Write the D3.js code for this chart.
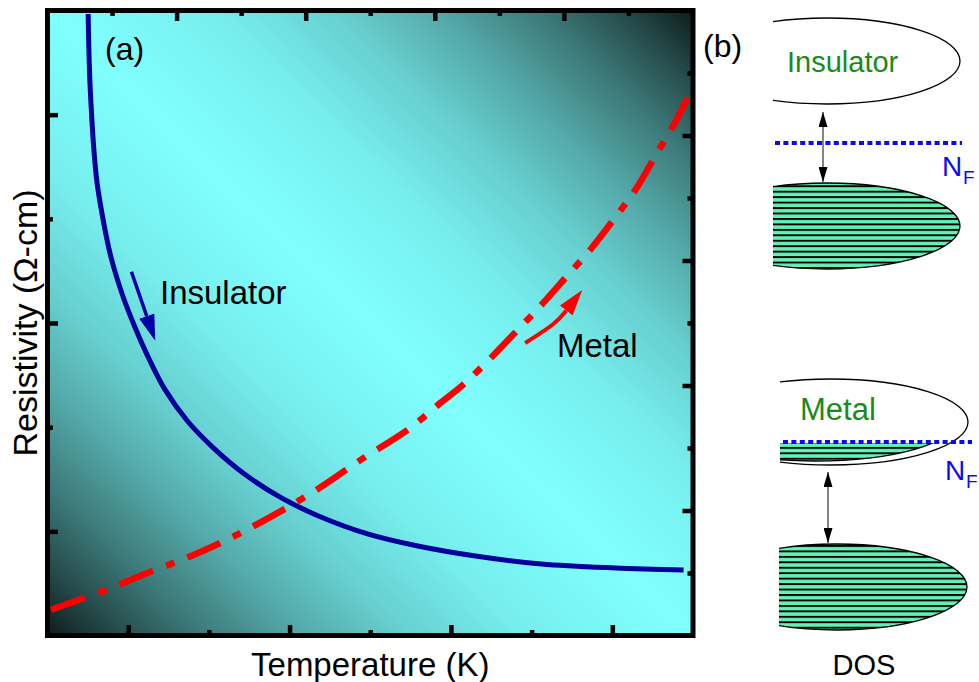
<!DOCTYPE html>
<html>
<head>
<meta charset="utf-8">
<script src="https://cdn.jsdelivr.net/npm/d3@7"></script>
<style>
  body { margin: 0; background: #fff; }
  svg { display: block; }
  text { font-family: "Liberation Sans", Arial, sans-serif; }
</style>
</head>
<body>
<svg id="chart" width="979" height="682"></svg>
<script>
// Resistivity versus temperature, arbitrary units
const insulatorT   = [0.504, 0.530, 0.606, 0.683, 0.786, 0.938, 1.092, 1.245, 1.449, 1.729, 2.062, 2.445, 2.905, 3.365, 3.977, 4.589, 5.304, 6.121, 7.040, 7.883];
const insulatorRho = [9.944, 8.733, 7.330, 6.696, 6.056, 5.416, 4.907, 4.461, 3.950, 3.440, 2.994, 2.579, 2.197, 1.909, 1.622, 1.432, 1.272, 1.144, 1.080, 1.048];
const metalT   = [0.045, 0.658, 1.270, 1.781, 2.317, 2.956, 3.365, 3.873, 4.487, 4.844, 5.152, 5.509, 5.841, 6.121, 6.428, 6.734, 7.040, 7.296, 7.551, 7.756, 7.960];
const metalRho = [0.411, 0.698, 1.016, 1.272, 1.592, 2.037, 2.355, 2.802, 3.312, 3.694, 4.014, 4.461, 4.907, 5.288, 5.736, 6.184, 6.696, 7.150, 7.712, 8.158, 8.669];

// Tick positions (no tick labels are drawn)
const bottomMajor = [1, 3, 5, 7], bottomMinor = [2, 4, 6];
const topMajor = [2, 4, 6, 8],    topMinor = [1, 3, 5, 7, 9];
const leftMajor = [1, 3, 5],      leftMinor = [2, 4];
const rightMajor = [2, 4, 6, 8],  rightMinor = [1, 3, 5, 7, 9];

// Direction arrows along each curve: shaft points in data units
const insulatorArrow = [[1.04, 5.82], [1.23, 5.11]];
const metalArrow = [[5.92, 4.68], [6.31, 5.00], [6.43, 5.20]];

const svg = d3.select("#chart");
const defs = svg.append("defs");

const pL = 47.5, pR = 693, pT = 10.5, pB = 635.5;
const x = d3.scaleLinear([0, 8], [pL, pR]);
const xTop = d3.scaleLinear([0, 10], [pL, pR]);
const y = d3.scaleLinear([0, 10], [pB, pT]);
const yLeft = d3.scaleLinear([0, 6], [pB, pT]);

// Background: bright cyan along the top-left / bottom-right diagonal,
// darkening toward the bottom-left and top-right corners
const grad = defs.append("linearGradient").attr("id", "bg")
  .attr("x1", 0).attr("y1", 1).attr("x2", 1).attr("y2", 0);
const fall = [[0, 1.0], [0.25, 0.93], [0.45, 0.80], [0.6, 0.65], [0.75, 0.47], [0.88, 0.28], [1, 0.08]];
const shade = b => d3.rgb(128 * b + 4 * (1 - b), 255 * b + 8 * (1 - b), 255 * b + 8 * (1 - b));
const stops = [];
fall.slice().reverse().forEach(([s, b]) => stops.push([0.5 * (1 - s), shade(b)]));
fall.slice(1).forEach(([s, b]) => stops.push([0.5 + 0.5 * s, shade(b)]));
grad.selectAll("stop").data(stops).join("stop")
  .attr("offset", d => d[0]).attr("stop-color", d => d[1]);

svg.append("rect").attr("x", pL).attr("y", pT)
  .attr("width", pR - pL).attr("height", pB - pT)
  .attr("fill", "url(#bg)");

// Curves
const line = d3.line().x(d => x(d[0])).y(d => y(d[1])).curve(d3.curveCatmullRom.alpha(0.5));
svg.append("path").datum(d3.zip(insulatorT, insulatorRho))
  .attr("d", line).attr("fill", "none").attr("stroke", "#00009c").attr("stroke-width", 5);
svg.append("path").datum(d3.zip(metalT, metalRho))
  .attr("d", line).attr("fill", "none").attr("stroke", "#ff0000").attr("stroke-width", 6.5)
  .attr("stroke-dasharray", "36,14,9,14");

// Arrowheads
function head(id, color, len, half) {
  defs.append("marker").attr("id", id)
    .attr("markerUnits", "userSpaceOnUse")
    .attr("viewBox", `0 ${-half} ${len} ${2 * half}`)
    .attr("markerWidth", len).attr("markerHeight", 2 * half)
    .attr("refX", 0).attr("refY", 0).attr("orient", "auto")
    .append("path").attr("d", `M0,${-half}L${len},0L0,${half}Z`).attr("fill", color);
}
head("blueHead", "#0000a8", 26, 8);
head("redHead", "#ff0000", 26, 8);

const arrowLine = d3.line().x(d => x(d[0])).y(d => y(d[1])).curve(d3.curveBasis);
svg.append("path").datum(insulatorArrow).attr("d", arrowLine)
  .attr("fill", "none").attr("stroke", "#0000a8").attr("stroke-width", 3.5)
  .attr("marker-end", "url(#blueHead)");
svg.append("path").datum(metalArrow).attr("d", arrowLine)
  .attr("fill", "none").attr("stroke", "#ff0000").attr("stroke-width", 4)
  .attr("marker-end", "url(#redHead)");

// Frame and inward ticks on all four sides
function ticks(axis, tx, ty) {
  const g = svg.append("g").attr("transform", `translate(${tx},${ty})`).call(axis);
  g.select(".domain").remove();
  g.selectAll(".tick line").attr("stroke", "#000").attr("stroke-width", 4.5);
  g.selectAll(".tick text").remove();
}
const major = 10.5, minor = 5.5;
ticks(d3.axisBottom(x).tickValues(bottomMajor).tickSize(-major), 0, pB);
ticks(d3.axisBottom(x).tickValues(bottomMinor).tickSize(-minor), 0, pB);
ticks(d3.axisTop(xTop).tickValues(topMajor).tickSize(-major), 0, pT);
ticks(d3.axisTop(xTop).tickValues(topMinor).tickSize(-minor), 0, pT);
ticks(d3.axisLeft(yLeft).tickValues(leftMajor).tickSize(-major), pL, 0);
ticks(d3.axisLeft(yLeft).tickValues(leftMinor).tickSize(-minor), pL, 0);
ticks(d3.axisRight(y).tickValues(rightMajor).tickSize(-major), pR, 0);
ticks(d3.axisRight(y).tickValues(rightMinor).tickSize(-minor), pR, 0);

svg.append("rect").attr("x", pL).attr("y", pT)
  .attr("width", pR - pL).attr("height", pB - pT)
  .attr("fill", "none").attr("stroke", "#000").attr("stroke-width", 5);

// Labels of panel (a)
const label = (t, px, py, size, opts = {}) => {
  const el = svg.append("text").attr("x", px).attr("y", py)
    .attr("font-size", size).attr("fill", opts.fill || "#000").text(t);
  if (opts.anchor) el.attr("text-anchor", opts.anchor);
  if (opts.rotate) el.attr("transform", `rotate(${opts.rotate},${px},${py})`);
  return el;
};
label("(a)", 105, 60, 32);
label("Insulator", 160, 304, 33);
label("Metal", 557, 357, 33);
label("Temperature (K)", (pL + pR) / 2, 676, 33, { anchor: "middle" });
label("Resistivity (\u03A9-cm)", 37, (pT + pB) / 2, 34, { anchor: "middle", rotate: -90 });

// Panel (b): density-of-states sketches
label("(b)", 703, 56.5, 32);

const hatch = defs.append("pattern").attr("id", "hatch")
  .attr("patternUnits", "userSpaceOnUse").attr("width", 12).attr("height", 5.45);
hatch.append("rect").attr("width", 12).attr("height", 5.45).attr("fill", "#62f2b8");
hatch.append("rect").attr("y", 0).attr("width", 12).attr("height", 1.9).attr("fill", "#000");

let clipN = 0;
function band(cx, cy, rx, ry, cut, filled, clipTop) {
  const id = "clip" + (clipN++);
  defs.append("clipPath").attr("id", id).append("rect")
    .attr("x", cut).attr("y", clipTop == null ? cy - ry - 5 : clipTop)
    .attr("width", 300).attr("height", 200);
  svg.append("ellipse").attr("cx", cx).attr("cy", cy).attr("rx", rx).attr("ry", ry)
    .attr("fill", filled ? "url(#hatch)" : "#fff")
    .attr("stroke", "#000").attr("stroke-width", 1.3)
    .attr("clip-path", `url(#${id})`);
}
const fermi = (x1, x2, yy) => svg.append("line")
  .attr("x1", x1).attr("x2", x2).attr("y1", yy).attr("y2", yy)
  .attr("stroke", "#0a0af2").attr("stroke-width", 4).attr("stroke-dasharray", "5,3.4");

defs.append("marker").attr("id", "gapHead")
  .attr("markerUnits", "userSpaceOnUse").attr("viewBox", "0 -4.5 15 9")
  .attr("markerWidth", 15).attr("markerHeight", 9)
  .attr("refX", 15).attr("refY", 0).attr("orient", "auto-start-reverse")
  .append("path").attr("d", "M0,-4.5L15,0L0,4.5Z").attr("fill", "#000");
const gap = (gx, y1, y2) => svg.append("line")
  .attr("x1", gx).attr("x2", gx).attr("y1", y1).attr("y2", y2)
  .attr("stroke", "#333").attr("stroke-width", 1.2)
  .attr("marker-start", "url(#gapHead)").attr("marker-end", "url(#gapHead)");

const nf = (nx0, ny0) => {
  label("N", nx0, ny0, 28, { fill: "#0a0af2" });
  label("F", nx0 + 21, ny0 + 8, 19, { fill: "#0a0af2" });
};

// Insulator: empty band above, filled band below, Fermi level in the gap
band(827, 61, 133, 43, 773, false);
band(827, 226, 133, 43, 773, true);
label("Insulator", 787, 72, 29, { fill: "#1a8a1a" });
gap(823, 112, 182);
fermi(775, 962, 143);
nf(942, 176);

// Metal: Fermi level inside the upper, partly filled band
band(831, 422, 137, 43, 780, false);
band(815, 421, 141, 40, 780, true, 443);
band(837, 587, 130, 43, 779, true);
label("Metal", 800, 420, 31, { fill: "#1a8a1a" });
fermi(783, 972, 442);
gap(828, 472, 543);
nf(945, 480);

label("DOS", 864, 675, 29, { anchor: "middle" });
</script>
</body>
</html>
